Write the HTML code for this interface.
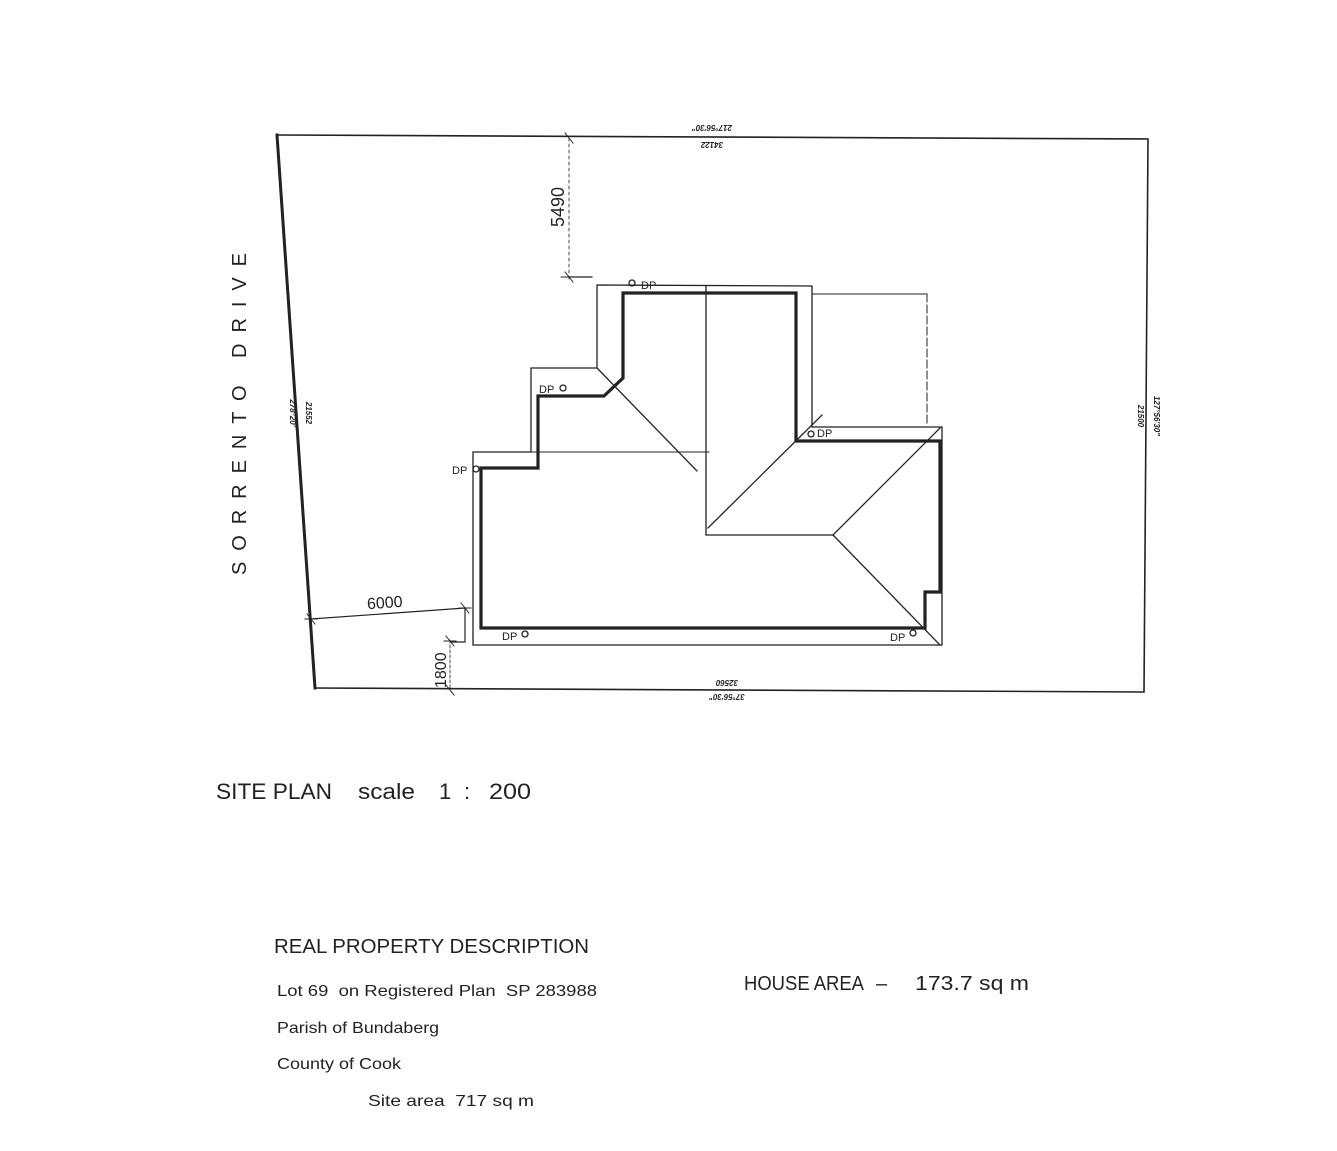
<!DOCTYPE html>
<html><head><meta charset="utf-8"><style>
html,body{margin:0;padding:0;background:#fff;}
svg{display:block}
text{font-family:"Liberation Sans",sans-serif;fill:#222}
</style></head><body>
<svg width="1337" height="1151" viewBox="0 0 1337 1151" xmlns="http://www.w3.org/2000/svg">
<g fill="none" stroke="#222" stroke-linecap="square">
<path d="M277,135 L1148,139 L1144,692 L315,688" stroke-width="1.6"/>
<path d="M277,135 L315,688" stroke-width="3"/>
<path d="M597,285 L812,286 L812,427 L942,427 L942,645 L473,645 L473,452 L531,452 L531,368 L597,368 Z" stroke-width="1.3"/>
<path d="M597,368 L697,471" stroke-width="1.3"/>
<path d="M531,452 L709,452" stroke-width="1.1"/>
<path d="M706,286 L706,535 L833,535" stroke-width="1.3"/>
<path d="M833,535 L940,428" stroke-width="1.3"/>
<path d="M833,535 L940,645" stroke-width="1.3"/>
<path d="M708,528 L822,415" stroke-width="1.3"/>
<path d="M812,294 L927,294" stroke-width="1"/>
<path d="M927,294 L927,425" stroke-width="1" stroke-dasharray="8,3"/>
<path d="M623,293 L796,293 L796,441 L940,441 L940,592 L925,592 L925,628 L481,628 L481,468 L538,468 L538,396 L604,396 L623,378 Z" stroke-width="3.2" stroke-linecap="butt" stroke-linejoin="miter"/>
<path d="M311,619 L465,608 L465,642 L452,642" stroke-width="1.2"/>
<path d="M450,640 L450,690" stroke-width="0.8" stroke-dasharray="3,2"/>
<path d="M569,138 L569,280" stroke-width="0.8" stroke-dasharray="3,3"/>
<path d="M569,277 L592,277" stroke-width="1.2"/>
<path d="M565,133 L573,143 M565,272 L573,282 M307,614 L315,624 M461,603 L469,613 M446,636 L454,646 M446,685 L454,695" stroke-width="1"/>
<path d="M561,277 L577,277 M305,619 L317,619 M459,608 L471,608 M444,641 L456,641 M444,689 L456,689" stroke-width="1"/>
</g>
<g fill="none" stroke="#222" stroke-width="1.3">
<circle cx="632" cy="283" r="3"/><circle cx="563" cy="388" r="3"/><circle cx="476" cy="469" r="3"/>
<circle cx="811" cy="434" r="3"/><circle cx="525" cy="634" r="3"/><circle cx="913" cy="633" r="3"/>
</g>
<g font-size="11">
<text x="641" y="289">DP</text>
<text x="539" y="393">DP</text>
<text x="452" y="474">DP</text>
<text x="817" y="437">DP</text>
<text x="502" y="640">DP</text>
<text x="890" y="641">DP</text>
</g>
<g font-size="8" font-weight="bold" font-style="italic">
<text x="712" y="131" text-anchor="middle" transform="rotate(180 712 128)">217°56'30"</text>
<text x="712" y="148" text-anchor="middle" transform="rotate(180 712 145)">34122</text>
<text x="727" y="686" text-anchor="middle" transform="rotate(180 727 683)">32560</text>
<text x="727" y="700" text-anchor="middle" transform="rotate(180 727 697)">37°56'30"</text>
<text x="290" y="413" text-anchor="middle" transform="rotate(90 290 413)">278°20'</text>
<text x="306" y="413" text-anchor="middle" transform="rotate(90 306 413)">21552</text>
<text x="1138" y="416" text-anchor="middle" transform="rotate(90 1138 416)">21500</text>
<text x="1154" y="416" text-anchor="middle" transform="rotate(90 1154 416)">127°56'30"</text>
</g>
<text x="0" y="0" font-size="18" transform="translate(564,227) rotate(-90)">5490</text>
<text x="367" y="608" font-size="16" transform="rotate(-4 385 604)">6000</text>
<text x="0" y="0" font-size="16" transform="translate(446,688) rotate(-90)">1800</text>
<text x="0" y="0" font-size="20" textLength="322" lengthAdjust="spacing" transform="translate(246,575) rotate(-90)">SORRENTO DRIVE</text>
<text x="216" y="799" font-size="22" textLength="116" lengthAdjust="spacingAndGlyphs">SITE PLAN</text>
<text x="358" y="799" font-size="22" textLength="57" lengthAdjust="spacingAndGlyphs">scale</text>
<text x="439" y="799" font-size="22">1</text>
<text x="464" y="799" font-size="22">:</text>
<text x="489" y="799" font-size="22" textLength="42" lengthAdjust="spacingAndGlyphs">200</text>
<text x="274" y="953" font-size="20" textLength="315" lengthAdjust="spacingAndGlyphs">REAL PROPERTY DESCRIPTION</text>
<text x="277" y="996" font-size="16" textLength="320" lengthAdjust="spacingAndGlyphs">Lot 69 &#160;on Registered Plan &#160;SP 283988</text>
<text x="277" y="1033" font-size="16" textLength="162" lengthAdjust="spacingAndGlyphs">Parish of Bundaberg</text>
<text x="277" y="1069" font-size="16" textLength="124" lengthAdjust="spacingAndGlyphs">County of Cook</text>
<text x="368" y="1106" font-size="16" textLength="166" lengthAdjust="spacingAndGlyphs">Site area &#160;717 sq m</text>
<text x="744" y="990" font-size="20" textLength="120" lengthAdjust="spacingAndGlyphs">HOUSE AREA</text>
<text x="876" y="990" font-size="20">&#8211;</text>
<text x="915" y="990" font-size="20" textLength="114" lengthAdjust="spacingAndGlyphs">173.7 sq m</text>
</svg>
</body></html>
